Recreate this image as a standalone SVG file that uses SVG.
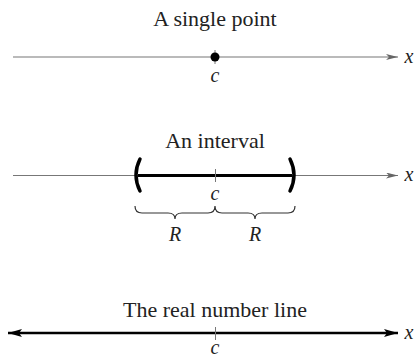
<svg xmlns="http://www.w3.org/2000/svg" width="414" height="358" viewBox="0 0 414 358">
<style>
.title{font-family:"Liberation Serif",serif;font-size:22px;fill:#222;text-anchor:middle}
.var{font-family:"Liberation Serif",serif;font-style:italic;font-size:20px;fill:#222;text-anchor:middle}
.axis{stroke:#777;stroke-width:1.2;fill:none}
.tick{stroke:#777;stroke-width:1;fill:none}
.heavy{stroke:#000;stroke-width:3;fill:none}
.paren{stroke:#000;stroke-width:3.5;fill:none;stroke-linecap:round}
.brace{stroke:#333;stroke-width:1.2;fill:none}
</style>
<defs>
<marker id="ag" viewBox="0 0 12 6" refX="12" refY="3" markerWidth="12" markerHeight="6" markerUnits="userSpaceOnUse" orient="auto">
<path d="M0,0 L12,3 L0,6 L3,3 Z" fill="#666"/>
</marker>
<marker id="ab" viewBox="0 0 14 8" refX="14" refY="4" markerWidth="14" markerHeight="8" markerUnits="userSpaceOnUse" orient="auto-start-reverse">
<path d="M0,0 L14,4 L0,8 L3,4 Z" fill="#000"/>
</marker>
</defs>
<g id="connectors">
<line class="axis" x1="13" y1="57" x2="398" y2="57" marker-end="url(#ag)"/>
<line class="axis" x1="13" y1="175.5" x2="398" y2="175.5" marker-end="url(#ag)"/>
<line x1="8" y1="333" x2="398" y2="333" stroke="#000" stroke-width="2.6" marker-start="url(#ab)" marker-end="url(#ab)"/>
</g>
<g id="single-point">
<text class="title" x="215" y="26">A single point</text>
<line class="tick" x1="215" y1="50" x2="215" y2="64"/>
<circle cx="215" cy="57" r="4.5" fill="#000"/>
<text class="var" x="215" y="82">c</text>
</g>
<g id="interval">
<text class="title" x="215" y="148">An interval</text>
<line class="heavy" x1="138" y1="175.5" x2="292" y2="175.5"/>
<path class="paren" d="M140,159 Q132,175 140,191"/>
<path class="paren" d="M290,159 Q298,175 290,191"/>
<line class="tick" x1="215.5" y1="169" x2="215.5" y2="182"/>
<text class="var" x="215" y="200">c</text>
<path class="brace" d="M135,206 Q135,213 142,213 L168,213 Q175,213 175,219 Q175,213 182,213 L208,213 Q215,213 215,206 Q215,213 222,213 L248,213 Q255,213 255,219 Q255,213 262,213 L288,213 Q295,213 295,206"/>
<text class="var" x="175" y="241">R</text>
<text class="var" x="255" y="241">R</text>
</g>
<g id="real-line">
<text class="title" x="215" y="317">The real number line</text>
<line class="tick" x1="215.5" y1="327" x2="215.5" y2="340"/>
<text class="var" x="215" y="354">c</text>
</g>
<g id="labels">
<text class="var" x="409" y="63">x</text>
<text class="var" x="409" y="181">x</text>
<text class="var" x="409" y="339">x</text>
</g>
</svg>
